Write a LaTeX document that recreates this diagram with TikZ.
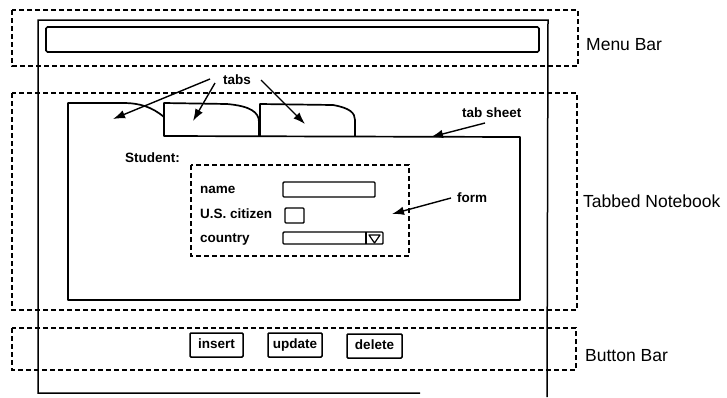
\documentclass[tikz,border=0pt]{standalone}
\usepackage{fontspec}
\setmainfont{Liberation Sans}
\usetikzlibrary{arrows.meta}
\begin{document}
\begin{tikzpicture}[x=1pt,y=-1pt,
  regionbox/.style={draw, line width=1.3pt, dash pattern=on 5pt off 3pt},
  winline/.style={draw, line width=1.5pt},
  sheetline/.style={draw, line width=1.7pt, line join=round},
  biglabel/.style={font=\fontsize{17.5}{20}\selectfont, inner sep=0pt, anchor=base west},
  smalllabel/.style={font=\bfseries\fontsize{13.5}{16}\selectfont, inner sep=0pt, anchor=base west},
  field/.style={draw, line width=1.4pt, rounded corners=1pt},
  buttonbox/.style={draw, line width=1.5pt, rounded corners=1pt, minimum height=24pt, inner sep=0pt, text height=10pt, text depth=3pt, font=\bfseries\fontsize{13.5}{16}\selectfont},
  pointer/.style={-{Latex[length=12pt,width=8.5pt]}, line width=1.4pt}
]
\useasboundingbox (0,0) rectangle (727,397);

% region boxes
\draw[regionbox] (12,10) rectangle (578,66);
\draw[regionbox] (12,93) rectangle (577,310);
\draw[regionbox] (12,328) rectangle (576,370);

% window
\draw[winline] (420,393) -- (38,393) -- (38,20) -- (548,20) -- (547,397);
% menu bar field
\draw[winline, line width=1.7pt, rounded corners=1.5pt] (46,27) rectangle (539,52);

% tab sheet and tabs
\draw[sheetline] (164,117) .. controls (152,107) and (140,103) .. (123,103) -- (68,103) -- (68,300) -- (520,300) -- (520,137) -- (164,136) -- (164,103) -- (227,104) .. controls (250,106) and (259,112) .. (259,122) -- (259,136);
\draw[sheetline] (260,136) -- (260,104) -- (333,105) .. controls (350,108) and (355,113) .. (355,120) -- (355,136);

% form region
\draw[regionbox, line width=1.1pt] (191,165) rectangle (409,256);

% labels
\node[biglabel] (menulbl) at (586,50) {Menu Bar};
\node[biglabel] (notelbl) at (583,207) {Tabbed Notebook};
\node[biglabel] (btnlbl) at (585,361) {Button Bar};

\node[smalllabel] (tabslbl) at (223,84) {tabs};
\node[smalllabel] (sheetlbl) at (462,117) {tab sheet};
\node[smalllabel] (formlbl) at (457,202) {form};
\node[smalllabel] (student) at (125,162) {Student:};
\node[smalllabel] (namelbl) at (200,193) {name};
\node[smalllabel] (citlbl) at (200,218) {U.S. citizen};
\node[smalllabel] (countrylbl) at (200,242) {country};

% form fields
\draw[field] (283,182) rectangle (375,197);
\draw[field] (285,208) rectangle (304,223);
\draw[field] (283,232) rectangle (383,244);
\draw[line width=1.4pt] (366,232) -- (366,244);
\draw[line width=1.2pt, line join=round] (369,235) -- (380,235) -- (374.5,243) -- cycle;

% buttons
\node[buttonbox, minimum width=53pt] (insert) at (216.5,345) {insert};
\node[buttonbox, minimum width=54pt] (update) at (295,345) {update};
\node[buttonbox, minimum width=55pt] (delete) at (374.5,346) {delete};

% pointer ends
\coordinate (a1s) at (210,79);
\coordinate (a1e) at (113,119);
\coordinate (a2s) at (215,83);
\coordinate (a2e) at (193,121);
\coordinate (a3s) at (261,80);
\coordinate (a3e) at (305,124);
\coordinate (a4s) at (485,123);
\coordinate (a4e) at (431,137);
\coordinate (a5s) at (451,198);
\coordinate (a5e) at (392,214);

\draw[pointer] (a1s) -- (a1e);
\draw[pointer] (a2s) -- (a2e);
\draw[pointer] (a3s) -- (a3e);
\draw[pointer] (a4s) -- (a4e);
\draw[pointer] (a5s) -- (a5e);
\end{tikzpicture}
\end{document}
